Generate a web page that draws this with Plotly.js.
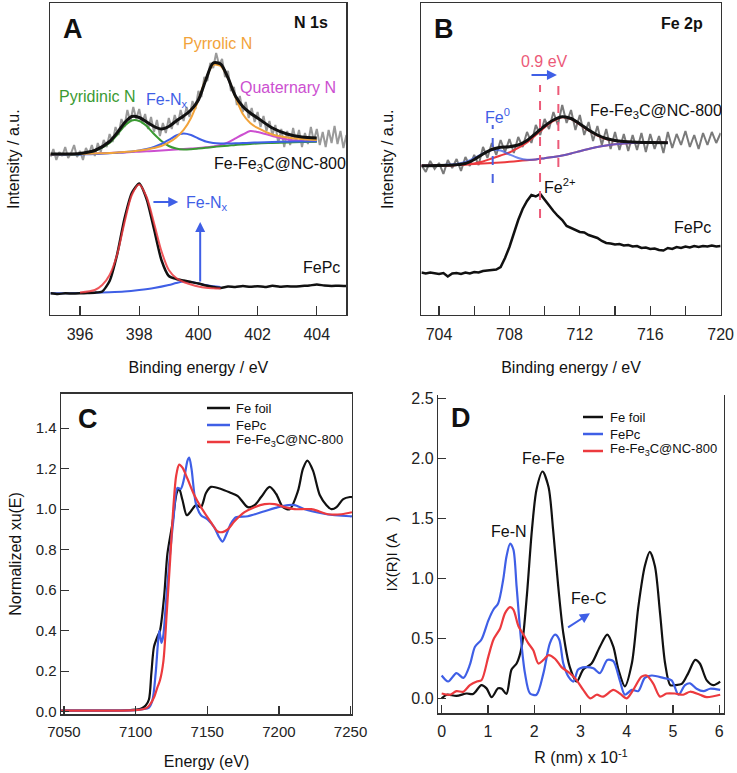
<!DOCTYPE html>
<html>
<head>
<meta charset="utf-8">
<script src="https://cdn.plot.ly/plotly-3.0.1.min.js"></script>
<style>html,body{margin:0;padding:0;background:#fff;}#chart{width:737px;height:773px;}</style>
</head>
<body>
<div id="chart"></div>
<script>
// ---------- Panel A : N 1s ----------
const a_raw_x = [395,395.1,395.2,395.3,395.4,395.5,395.6,395.7,395.8,395.9,396,396.1,396.2,396.3,396.4,396.5,396.6,396.7,396.8,396.9,397,397.1,397.2,397.3,397.4,397.5,397.6,397.7,397.8,397.9,398,398.1,398.2,398.3,398.4,398.5,398.6,398.7,398.8,398.9,399,399.1,399.2,399.3,399.4,399.5,399.6,399.7,399.8,399.9,400,400.1,400.2,400.3,400.4,400.5,400.6,400.7,400.8,400.9,401,401.1,401.2,401.3,401.4,401.5,401.6,401.7,401.8,401.9,402,402.1,402.2,402.3,402.4,402.5,402.6,402.7,402.8,402.9,403,403.1,403.2,403.3,403.4,403.5,403.6,403.7,403.8,403.9,404,404.1,404.2,404.3,404.4,404.5,404.6,404.7,404.8,404.9,405];
const a_raw_y = [158,166,155,163,159,168,157,162,170,158,164,155,167,161,170,159,172,163,175,168,181,173,188,180,196,188,205,193,208,196,206,192,201,186,198,183,195,179,192,182,197,186,200,190,205,194,208,198,214,206,224,218,238,234,252,247,262,250,256,238,244,224,228,210,219,203,213,197,207,193,203,188,199,184,194,180,190,172,186,168,184,170,187,173,185,168,182,171,188,174,186,170,183,168,185,172,189,171,184,167,180];
const a_fit_x = [395,395.5,396,396.5,397,397.25,397.5,397.75,398,398.25,398.5,398.75,399,399.25,399.5,399.75,400,400.25,400.5,400.75,401,401.25,401.5,401.75,402,402.5,403,403.5,404];
const a_total = [161,161,161.6,164.5,173.5,182,192,198.5,197.5,193,188.5,186,188.5,194,199,205,215,235,252,251,237,219,208.5,202,197,187,181,178,177];
const a_pyridinic = [160,160.2,160.8,164,172,180,189,194.5,194,189,181,174,169,166.5,165.5,165.8,166.5,167.2,168,168.7,169.3,170,170.5,171,171.5,172,172.5,173,173.2];
const a_fenx = [160,160.2,160.6,161,161.8,162.3,162.8,163.5,164.5,166,168,171,175,179.5,181.5,180,176.5,173.5,172,171.5,171.5,171.7,172,172.2,172.5,173,173.3,173.5,173.7];
const a_pyrrolic = [160.5,160.7,161,161.5,162,162.5,163,163.5,164.5,165.5,167,169,172.5,177.5,185,197,215,236,250,249,237,218,201,192,187,180.5,177.5,176,175];
const a_quaternary = [160,160.5,161,161.5,162,162.3,162.6,163,163.3,163.7,164,164.5,165,165.5,166,166.5,167,167.7,168.5,170,172.5,176.5,180.5,184,183,179,175.5,174,173.5];
const a_fepc_x = [395,395.25,395.5,395.75,396,396.25,396.5,396.75,397,397.25,397.5,397.75,398,398.25,398.5,398.75,399,399.25,399.5,399.75,400,400.25,400.5,400.75,401,401.25,401.5,401.75,402,402.25,402.5,402.75,403,403.25,403.5,403.75,404,404.25,404.5,404.75,405];
const a_fepc_y = [21.7,21,21.7,21.5,21.7,22,22.3,23.5,34,60,96,122,131.5,116,86,55,39,36,34.5,33,31.5,29.5,28,27,28.5,28,29,28.2,28.8,28,29.2,28.3,28.8,28.4,29,29.5,30.5,29.5,29,29.3,29];
const a_fepc_fit_x = [396,396.5,396.75,397,397.25,397.5,397.75,398,398.25,398.5,398.75,399,399.25,399.5,399.75,400,400.25,400.5,400.75];
const a_fepc_fit = [22.5,25,30,40,60,92,120,130.5,118,92,64,45,37,33,30.5,28.5,27.3,26.8,26.5];
const a_fepc_fenx_x = [395,396,397,397.5,398,398.5,399,399.25,399.5,399.75,400,400.25,400.5,400.75];
const a_fepc_fenx = [21.7,22,22.8,23.5,25,27,30,32,33.5,33,31.5,30,28.8,28];

// ---------- Panel B : Fe 2p ----------
const b_raw_x = [703,703.25,703.5,703.75,704,704.25,704.5,704.75,705,705.25,705.5,705.75,706,706.25,706.5,706.75,707,707.25,707.5,707.75,708,708.25,708.5,708.75,709,709.25,709.5,709.75,710,710.25,710.5,710.75,711,711.25,711.5,711.75,712,712.25,712.5,712.75,713,713.25,713.5,713.75,714,714.25,714.5,714.75,715,715.25,715.5,715.75,716,716.25,716.5,716.75,717,717.25,717.5,717.75,718,718.25,718.5,718.75,719,719.25,719.5,719.75,720];
const b_raw_y = [150,143,154,146,152,141,155,147,156,144,158,149,160,150,168,157,172,160,175,163,176,162,178,168,183,172,190,180,196,186,203,190,210,192,205,185,200,180,193,174,189,170,186,166,183,165,181,164,180,165,182,163,181,166,179,162,183,167,181,170,184,168,180,166,182,170,183,172,182];
const b_fepc_y = [42.5,41.5,42.5,42,41,42,38.5,41.5,42,41,42.5,41.5,43,42.5,44,44.5,45,45.5,48,57,68,82,95,106,114,120,118.5,121,115,110,104,99,95,89,87,85.5,83,82.5,80,78.5,77,74,72,71.5,70.5,71,69.5,70,68.5,69,67,67.5,66,66.5,65,64.5,67,66,68,67,68.5,67.5,69,68,69,68.5,69.5,68.5,69];
const b_fit_x = [703,704,705,705.5,706,706.5,707,707.5,708,708.5,709,709.5,710,710.5,711,711.5,712,712.5,713,713.5,714,714.5,715,716,717];
const b_total = [149.3,149.5,150.3,151.5,155.5,161,165.5,167.8,168.3,170,174.5,181.7,189,195,198.3,196.5,191,185,180,176.5,174.5,173.5,173,172.5,172.3];
const b_shirley = [149.3,149.5,150,150.5,151,151.5,152,152.5,153.2,154,154.8,155.6,156.8,158,159.5,161.5,163.8,166,168,169.5,170.7,171.5,172,172.3,172.3];
const b_fe0 = [149.3,149.8,151,153,157,161.5,165,164.5,160.5,157,155.2,155.6,156.8,158,159.5,161.5,163.8,166,168,169.5,170.7,171.5,172,172.3,172.3];
const b_fe2 = [149.3,149.5,150,150.5,151.5,153.5,156.5,159.5,162.5,167,172.5,180,187.5,194,197.8,196,190.5,184.5,179.5,176,174.3,173.3,172.8,172.4,172.3];

// ---------- Panel C : XANES ----------
const c_foil_x = [7048,7060,7080,7095,7100,7104,7107,7109.3,7111,7112.8,7115.2,7117,7119.9,7122.2,7125.7,7128.7,7130.4,7132.7,7135.7,7138.6,7142.1,7145.6,7149.1,7152.6,7159.6,7166.6,7171.3,7178.3,7183,7187.6,7193.5,7198.1,7202.8,7207.5,7213.3,7216.8,7219.9,7223.8,7228.5,7233.2,7236.7,7240.2,7244.9,7249.6,7251];
const c_foil_y = [0.005,0.005,0.005,0.007,0.01,0.015,0.03,0.06,0.19,0.32,0.37,0.40,0.57,0.78,0.93,1.08,1.10,1.045,0.97,0.99,1.02,1.01,1.08,1.11,1.10,1.08,1.065,1.01,1.02,1.06,1.11,1.075,1.01,1.0,1.09,1.2,1.24,1.19,1.07,1.02,1.0,1.01,1.05,1.06,1.06];
const c_fepc_x = [7048,7080,7100,7105,7109.3,7111.7,7114,7115.6,7116.6,7118,7119.2,7121,7123.4,7126.4,7129.2,7131.5,7133.8,7136.2,7137.4,7139,7142,7145.6,7150.2,7154.9,7158.4,7160.7,7163,7166.6,7170,7178.3,7190,7199.5,7206.5,7211,7218,7229.7,7239,7249.6,7251];
const c_fepc_y = [0.005,0.005,0.008,0.012,0.02,0.055,0.19,0.34,0.40,0.34,0.37,0.52,0.73,0.95,1.105,1.10,1.15,1.24,1.255,1.20,1.03,0.97,0.95,0.91,0.86,0.84,0.87,0.93,0.96,0.965,0.99,1.01,1.02,1.02,1.0,0.98,0.97,0.965,0.965];
const c_nc_x = [7048,7080,7100,7105,7108,7110,7112.8,7115.2,7117,7119.4,7121.7,7124.1,7126.4,7128.3,7130.4,7132.7,7136.2,7140.9,7145.6,7152.6,7157.3,7160.7,7164.3,7169,7176,7183,7190,7197,7204,7211,7222.6,7234.4,7243.7,7251];
const c_nc_y = [0.005,0.005,0.008,0.012,0.02,0.035,0.07,0.12,0.155,0.25,0.485,0.75,1.015,1.165,1.22,1.205,1.15,1.07,1.01,0.935,0.89,0.887,0.90,0.94,0.985,1.01,1.025,1.025,1.01,1.0,1.0,0.975,0.975,0.985];

// ---------- Panel D : FT-EXAFS ----------
const d_foil_x = [0,0.11,0.32,0.54,0.68,0.86,0.97,1.08,1.22,1.3,1.4,1.51,1.62,1.73,1.84,1.95,2.05,2.18,2.31,2.41,2.52,2.63,2.77,2.92,3.06,3.24,3.42,3.58,3.71,3.82,3.96,4.11,4.25,4.39,4.5,4.61,4.72,4.83,4.94,5.04,5.19,5.33,5.48,5.58,5.73,5.87,6.02];
const d_foil_y = [0.0,0.03,0.02,0.04,0.036,0.11,0.083,0.01,0.083,0.08,0.036,0.24,0.29,0.43,0.85,1.40,1.74,1.89,1.76,1.40,0.93,0.54,0.26,0.14,0.24,0.29,0.43,0.53,0.43,0.24,0.1,0.29,0.76,1.10,1.22,1.10,0.71,0.29,0.11,0.11,0.12,0.21,0.32,0.29,0.15,0.11,0.14];
const d_fepc_x = [0,0.14,0.32,0.47,0.61,0.72,0.86,1.01,1.12,1.22,1.33,1.4,1.48,1.55,1.62,1.71,1.8,1.91,2.05,2.2,2.34,2.45,2.54,2.63,2.74,2.85,2.95,3.1,3.28,3.42,3.58,3.71,3.85,3.96,4.11,4.25,4.39,4.54,4.79,4.97,5.12,5.26,5.37,5.51,5.66,5.8,6.02];
const d_fepc_y = [0.19,0.14,0.21,0.17,0.28,0.43,0.49,0.65,0.74,0.79,0.99,1.18,1.29,1.24,0.93,0.51,0.21,0.04,0.03,0.21,0.46,0.53,0.49,0.29,0.18,0.14,0.24,0.26,0.25,0.21,0.32,0.31,0.15,0.03,0.07,0.06,0.17,0.19,0.17,0.15,0.03,0.11,0.125,0.08,0.06,0.08,0.07];
const d_nc_x = [0,0.18,0.32,0.47,0.61,0.76,0.86,1.01,1.12,1.26,1.37,1.48,1.55,1.66,1.77,1.87,1.98,2.09,2.2,2.31,2.45,2.59,2.77,2.92,3.06,3.21,3.35,3.49,3.71,3.85,4.0,4.14,4.32,4.43,4.57,4.72,4.86,5.04,5.22,5.37,5.58,5.73,6.02];
const d_nc_y = [0.04,0.03,0.06,0.055,0.11,0.14,0.15,0.35,0.49,0.58,0.71,0.76,0.74,0.6,0.53,0.46,0.40,0.29,0.32,0.36,0.33,0.26,0.21,0.15,0.07,0.0,0.03,0.014,0.07,0.04,0.0,0.07,0.18,0.19,0.125,0.014,0.04,0.04,0.03,0.055,0.03,0.01,0.03];

const legendNames = ['Fe foil', 'FePc', 'Fe-Fe<sub>3</sub>C@NC-800'];

const FONT = 'Liberation Sans, Arial, sans-serif';
const BLACK = '#111111', BLUE = '#3f5fe6', RED = '#ec3a3e';
const GRAY = '#9a9a9a', GREEN = '#3a9a32', ORANGE = '#f2a33a', MAGENTA = '#cc4fd0', PINK = '#ec5a78';
const legendColors = [BLACK, BLUE, RED];

function ln(x, y, color, width, xa, ya, extra) {
  return Object.assign({x: x, y: y, type: 'scatter', mode: 'lines', xaxis: xa, yaxis: ya,
    line: {color: color, width: width, shape: 'spline', smoothing: 0.8}, showlegend: false, hoverinfo: 'skip'}, extra || {});
}

const traces = [
  // A
  ln(a_raw_x, a_raw_y, GRAY, 2, 'x', 'y', {line: {color: GRAY, width: 2, shape: 'linear'}}),
  ln(a_fit_x, a_quaternary, MAGENTA, 2, 'x', 'y'),
  ln(a_fit_x, a_pyridinic, GREEN, 2, 'x', 'y'),
  ln(a_fit_x, a_fenx, BLUE, 2, 'x', 'y'),
  ln(a_fit_x, a_pyrrolic, ORANGE, 2, 'x', 'y'),
  ln(a_fit_x, a_total, BLACK, 3, 'x', 'y'),
  ln(a_fepc_fenx_x, a_fepc_fenx, BLUE, 2, 'x', 'y'),
  ln(a_fepc_x, a_fepc_y, BLACK, 2.5, 'x', 'y', {line: {color: BLACK, width: 2.5, shape: 'spline', smoothing: 0.6}}),
  ln(a_fepc_fit_x, a_fepc_fit, RED, 2, 'x', 'y', {opacity: 0.85}),
  // B
  ln(b_raw_x, b_raw_y, '#7a7a7a', 2, 'x2', 'y2', {line: {color: '#7a7a7a', width: 2, shape: 'linear'}}),
  ln(b_fit_x, b_shirley, RED, 2, 'x2', 'y2'),
  ln(b_fit_x, b_fe2, RED, 2, 'x2', 'y2'),
  ln(b_fit_x, b_fe0, BLUE, 2, 'x2', 'y2', {opacity: 0.75}),
  ln(b_fit_x, b_total, BLACK, 3, 'x2', 'y2'),
  ln(b_raw_x, b_fepc_y, BLACK, 2.5, 'x2', 'y2', {line: {color: BLACK, width: 2.5, shape: 'linear'}}),
  // C
  ln(c_foil_x, c_foil_y, legendColors[0], 2.2, 'x3', 'y3', {name: legendNames[0]}),
  ln(c_fepc_x, c_fepc_y, legendColors[1], 2.2, 'x3', 'y3', {name: legendNames[1]}),
  ln(c_nc_x, c_nc_y, legendColors[2], 2.2, 'x3', 'y3', {name: legendNames[2]}),
  // D
  ln(d_foil_x, d_foil_y, legendColors[0], 2.2, 'x4', 'y4', {name: legendNames[0]}),
  ln(d_fepc_x, d_fepc_y, legendColors[1], 2.2, 'x4', 'y4', {name: legendNames[1]}),
  ln(d_nc_x, d_nc_y, legendColors[2], 2.2, 'x4', 'y4', {name: legendNames[2]})
];

const AX = {showgrid: false, zeroline: false, showline: true, linecolor: '#333', linewidth: 1.5,
  ticks: 'inside', ticklen: 9, tickwidth: 1.3, tickcolor: '#333', automargin: false,
  tickfont: {family: FONT, size: 16, color: '#222'}};
function ax(o) { return Object.assign({}, AX, o); }

function ann(text, xref, yref, x, y, o) {
  return Object.assign({text: text, xref: xref, yref: yref, x: x, y: y, showarrow: false,
    font: {family: FONT, size: 16, color: '#111'}}, o || {});
}
function arrow(xref, yref, x0, y0, x1, y1, color) {
  return {text: '', xref: xref, yref: yref, axref: xref, ayref: yref, x: x1, y: y1, ax: x0, ay: y0,
    showarrow: true, arrowhead: 2, arrowsize: 1, arrowwidth: 2, arrowcolor: color, standoff: 0, startstandoff: 0};
}

// hand-drawn legends (tight row spacing as in the figure), in pixel positions
const W = 737, H = 773;
function legendBlock(lineX0, lineX1, textX, rowsPy, shapes, anns) {
  legendNames.forEach(function (name, i) {
    shapes.push({type: 'line', xref: 'paper', yref: 'paper', x0: lineX0 / W, x1: lineX1 / W,
      y0: 1 - rowsPy[i] / H, y1: 1 - rowsPy[i] / H, line: {color: legendColors[i], width: 2.5}});
    anns.push({text: name, xref: 'paper', yref: 'paper', x: textX / W, y: 1 - (rowsPy[i] - (i === 2 ? 2 : 0)) / H,
      xanchor: 'left', yanchor: 'middle', showarrow: false, borderpad: 0,
      font: {family: FONT, size: 13, color: '#111'}});
  });
}

const shapes = [
  {type: 'line', xref: 'x2', yref: 'y2', x0: 707.05, x1: 707.05, y0: 132, y1: 190, line: {color: '#4a62e0', width: 2, dash: 'dash'}},
  {type: 'line', xref: 'x2', yref: 'y2', x0: 709.74, x1: 709.74, y0: 97, y1: 230, line: {color: PINK, width: 2, dash: 'dash'}},
  {type: 'line', xref: 'x2', yref: 'y2', x0: 710.78, x1: 710.78, y0: 148, y1: 238, line: {color: PINK, width: 2, dash: 'dash'}}
];

const annotations = [
  ann('<b>A</b>', 'x', 'y', 395.75, 286, {font: {family: FONT, size: 27, color: '#111'}}),
  ann('<b>N 1s</b>', 'x', 'y', 404.45, 292, {xanchor: 'right', font: {family: FONT, size: 16, color: '#111'}}),
  ann('Pyrrolic N', 'x', 'y', 400.63, 271, {font: {family: FONT, size: 16, color: ORANGE}}),
  ann('Pyridinic N', 'x', 'y', 396.59, 218, {font: {family: FONT, size: 16, color: GREEN}}),
  ann('Fe-N<sub>x</sub>', 'x', 'y', 398.94, 214, {font: {family: FONT, size: 16, color: BLUE}}),
  ann('Quaternary N', 'x', 'y', 403.03, 227, {font: {family: FONT, size: 16, color: MAGENTA}}),
  ann('Fe-Fe<sub>3</sub>C@NC-800', 'x', 'y', 402.76, 150, {font: {family: FONT, size: 16, color: '#111'}}),
  ann('FePc', 'x', 'y', 404.17, 47),
  ann('Fe-N<sub>x</sub>', 'x', 'y', 400.29, 111, {font: {family: FONT, size: 16, color: BLUE}}),
  arrow('x', 'y', 398.43, 113, 399.32, 113, BLUE),
  arrow('x', 'y', 400.06, 32, 400.06, 93, BLUE),

  ann('<b>B</b>', 'x2', 'y2', 704.28, 286, {font: {family: FONT, size: 27, color: '#111'}}),
  ann('<b>Fe 2p</b>', 'x2', 'y2', 719.11, 291, {xanchor: 'right', font: {family: FONT, size: 16, color: '#111'}}),
  ann('0.9 eV', 'x2', 'y2', 709.97, 253, {font: {family: FONT, size: 16, color: PINK}}),
  arrow('x2', 'y2', 709.17, 240, 710.7, 240, BLUE),
  ann('Fe<sup>0</sup>', 'x2', 'y2', 707.3, 199, {font: {family: FONT, size: 16, color: BLUE}}),
  ann('Fe-Fe<sub>3</sub>C@NC-800', 'x2', 'y2', 716.33, 203, {font: {family: FONT, size: 16, color: '#111'}}),
  ann('Fe<sup>2+</sup>', 'x2', 'y2', 710.87, 129),
  ann('FePc', 'x2', 'y2', 718.38, 87),

  ann('<b>C</b>', 'x3', 'y3', 7066.7, 1.445, {font: {family: FONT, size: 27, color: '#111'}}),

  ann('<b>D</b>', 'x4', 'y4', 0.417, 2.336, {font: {family: FONT, size: 27, color: '#111'}}),
  ann('Fe-Fe', 'x4', 'y4', 2.21, 1.995),
  ann('Fe-N', 'x4', 'y4', 1.455, 1.39),
  ann('Fe-C', 'x4', 'y4', 3.18, 0.83),
  arrow('x4', 'y4', 2.70, 0.583, 3.205, 0.708, BLUE)
];

legendBlock(207, 230, 235, [408, 425, 442], shapes, annotations);
legendBlock(583, 603, 609, [417, 434, 451], shapes, annotations);

const layout = {
  width: W, height: H, margin: {l: 0, r: 0, t: 0, b: 0}, showlegend: false,
  paper_bgcolor: '#fff', plot_bgcolor: '#fff', font: {family: FONT, color: '#111'},
  xaxis: ax({domain: [0.0684, 0.4700], range: [395, 405], anchor: 'y', mirror: true, ticklabelstandoff: 4,
    tickvals: [396, 398, 400, 402, 404], title: {text: 'Binding energy / eV', font: {family: FONT, size: 16}, standoff: 20}}),
  yaxis: ax({domain: [0.5925, 0.9955], range: [0, 311.5], anchor: 'x', mirror: true, ticks: '', showticklabels: false,
    title: {text: 'Intensity / a.u.', font: {family: FONT, size: 16}, standoff: 25}}),
  xaxis2: ax({domain: [0.5718, 0.9778], range: [703, 720], anchor: 'y2', mirror: true, ticklabelstandoff: 4,
    tickvals: [704, 708, 712, 716, 720], minor: {tick0: 704, dtick: 2, ticks: 'inside', ticklen: 9, tickcolor: '#333', tickwidth: 1.3},
    title: {text: 'Binding energy / eV', font: {family: FONT, size: 16}, standoff: 20}}),
  yaxis2: ax({domain: [0.5925, 0.9955], range: [0, 311.5], anchor: 'x2', mirror: true, ticks: '', showticklabels: false,
    title: {text: 'Intensity / a.u.', font: {family: FONT, size: 16}, standoff: 22}}),
  xaxis3: ax({domain: [0.0829, 0.4776], range: [7048, 7251], anchor: 'y3', mirror: true, ticklen: 8, ticklabelstandoff: 3,
    tickvals: [7050, 7100, 7150, 7200, 7250], tickfont: {family: FONT, size: 15, color: '#222'},
    title: {text: 'Energy (eV)', font: {family: FONT, size: 16}, standoff: 17}}),
  yaxis3: ax({domain: [0.0762, 0.4906], range: [-0.012, 1.57], anchor: 'x3', mirror: true, ticklen: 8,
    tickvals: [0, 0.2, 0.4, 0.6, 0.8, 1.0, 1.2, 1.4], tickformat: '.1f', tickfont: {family: FONT, size: 15, color: '#222'},
    title: {text: 'Normalized xu(E)', font: {family: FONT, size: 16}, standoff: 10}}),
  xaxis4: ax({domain: [0.5947, 0.9822], range: [-0.073, 6.1], anchor: 'y4', mirror: false, ticklen: 8, ticklabelstandoff: 3,
    tickvals: [0, 1, 2, 3, 4, 5, 6],
    title: {text: 'R (nm) x 10<sup>-1</sup>', font: {family: FONT, size: 16}, standoff: 13}}),
  yaxis4: ax({domain: [0.0772, 0.4894], range: [-0.125, 2.53], anchor: 'x4', mirror: true, ticklen: 8,
    tickvals: [0, 0.5, 1.0, 1.5, 2.0, 2.5], tickformat: '.1f',
    title: {text: 'IX(R)I (A   )', font: {family: FONT, size: 15}, standoff: 10}}),
  shapes: shapes,
  annotations: annotations
};

Plotly.newPlot('chart', traces, layout, {staticPlot: true, displayModeBar: false});
</script>
</body>
</html>
